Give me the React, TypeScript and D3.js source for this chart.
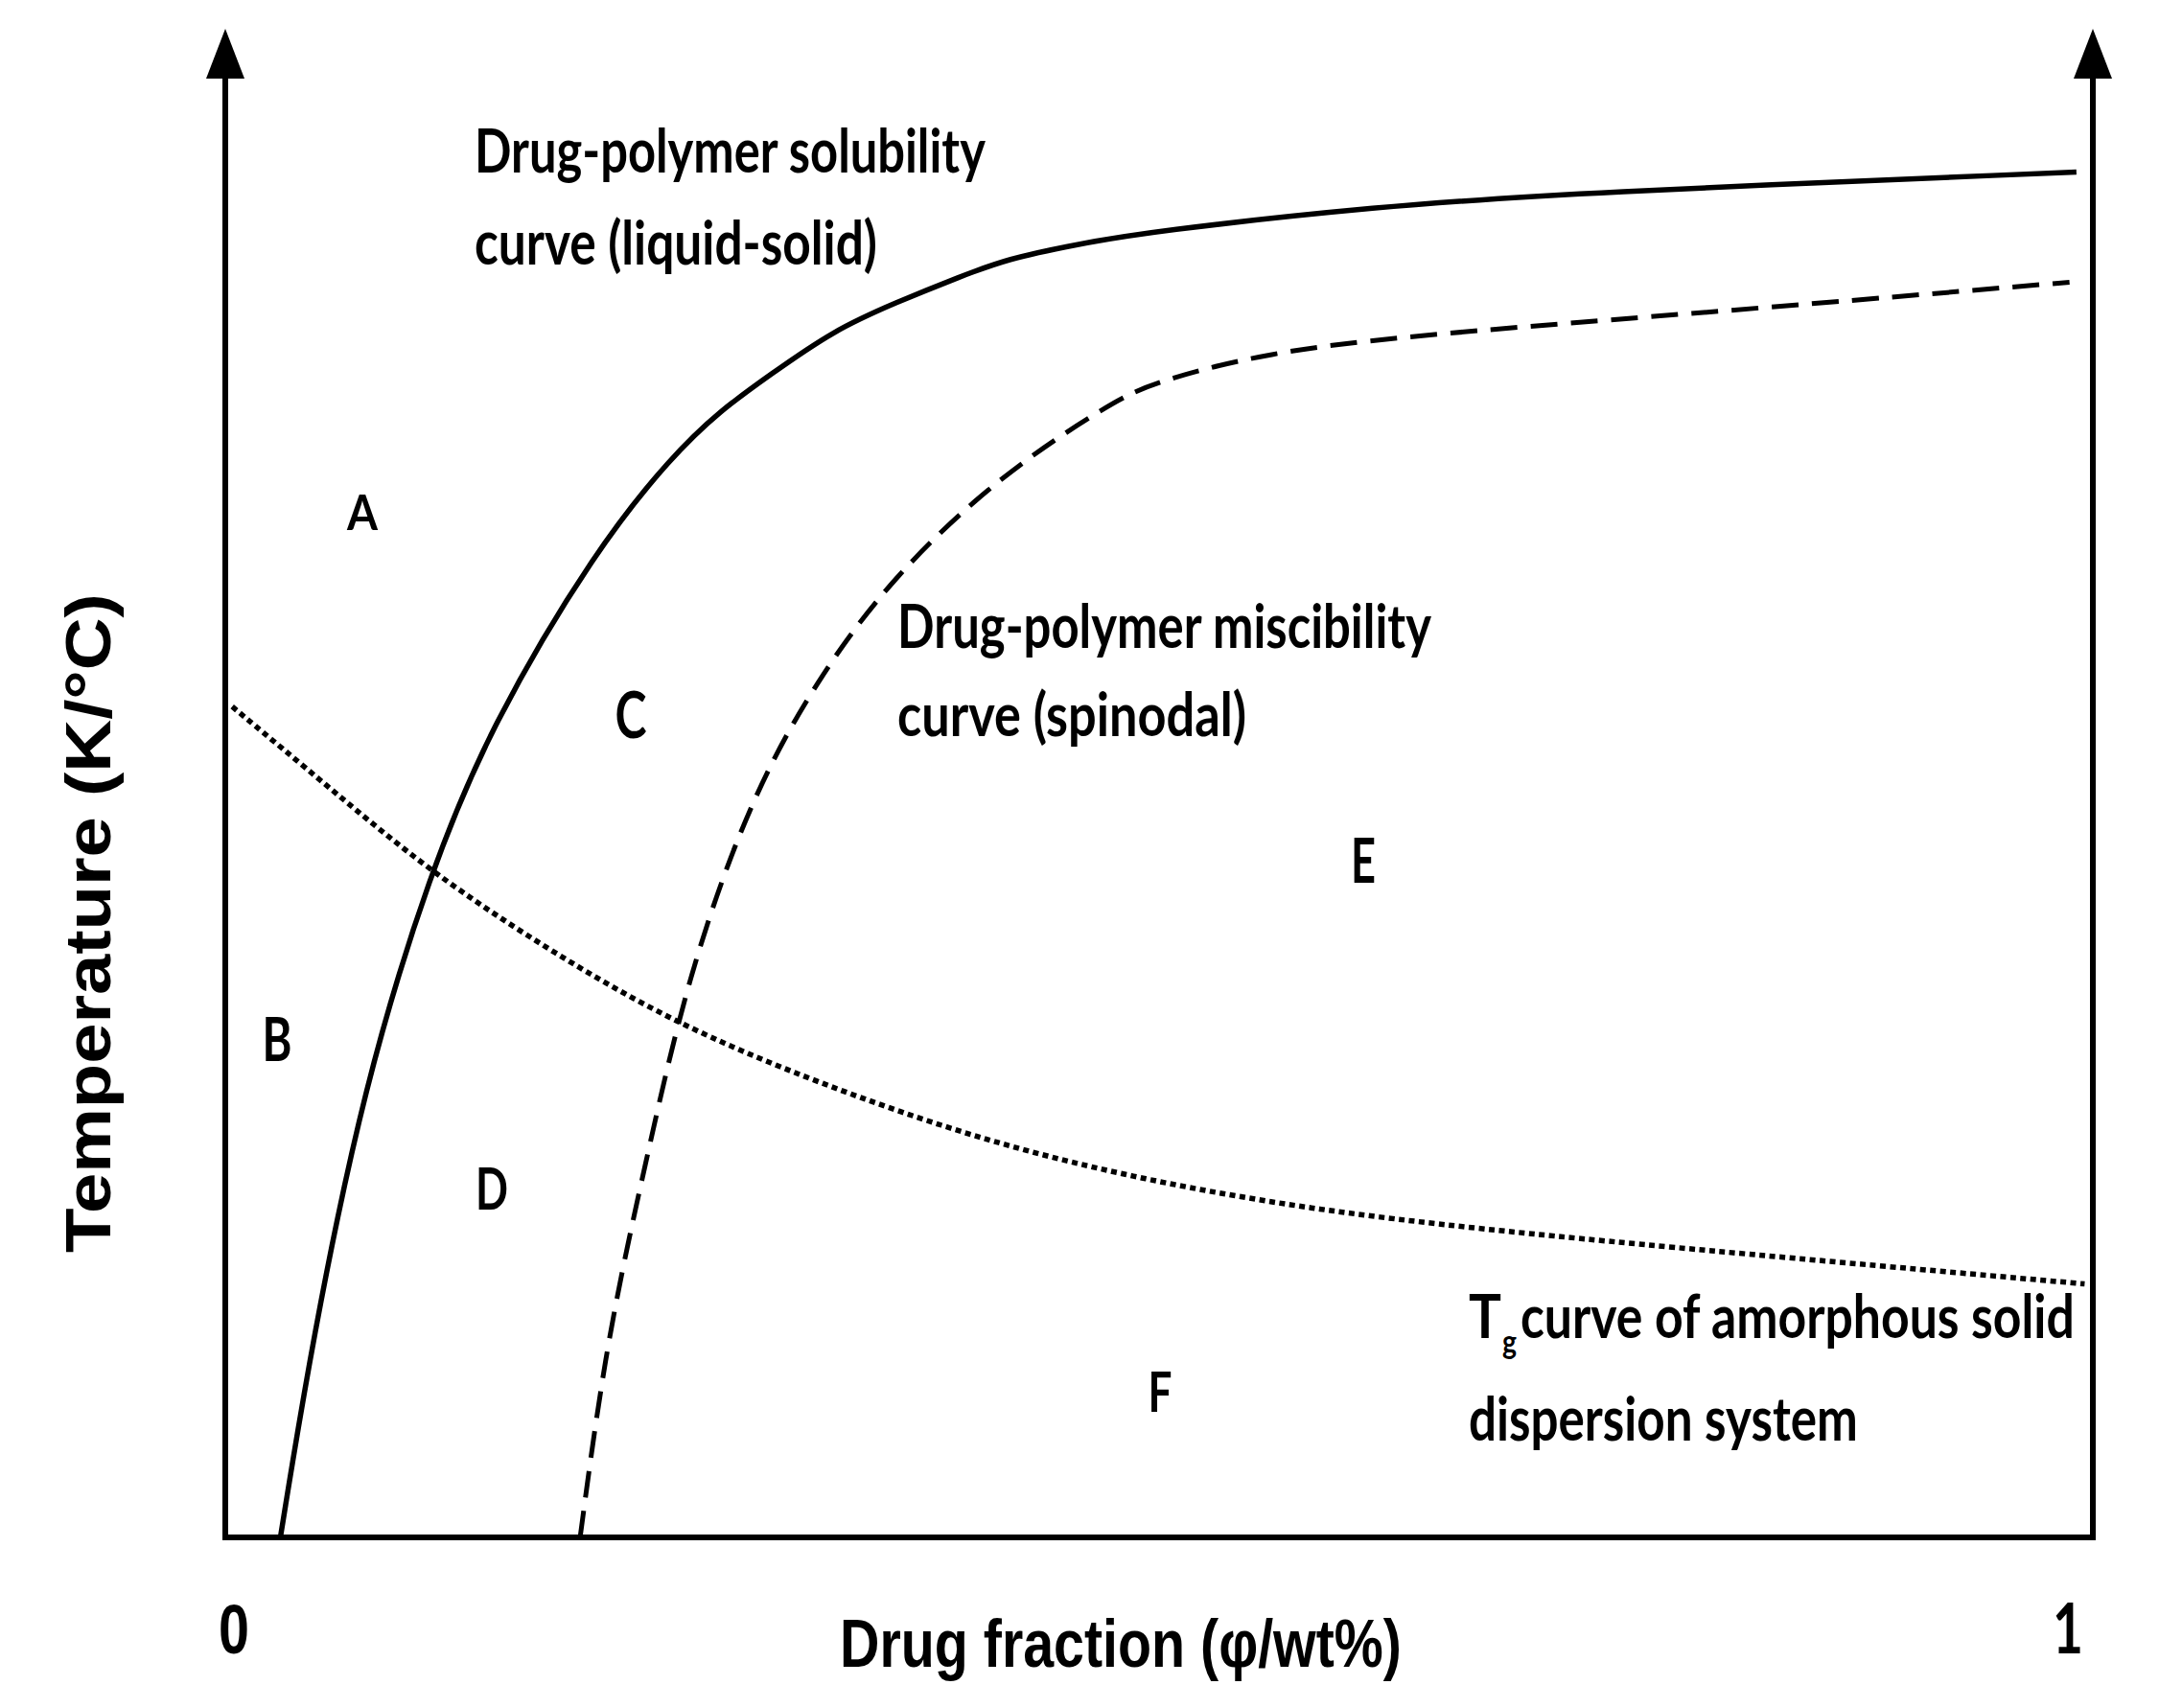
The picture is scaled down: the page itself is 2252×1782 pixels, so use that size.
import React, { useLayoutEffect, useRef, useState } from 'react';
import * as d3 from 'd3';

// ---------- data ----------
// Drug-polymer solubility curve (liquid-solid), solid line
const solidFraction = [0.0295, 0.0464, 0.0744, 0.1097, 0.1421, 0.1988, 0.2393, 0.2651, 0.2909, 0.3255, 0.3594, 0.3932, 0.419, 0.4536, 0.4963, 0.6171, 0.7209, 0.9912];
const solidTemp = [0, 12.97, 30.05, 44.11, 53.79, 65.57, 71.69, 74.7, 76.99, 80.0, 81.87, 83.56, 84.75, 85.66, 86.58, 88.22, 89.13, 90.5];

// Drug-polymer miscibility curve (spinodal), dashed line
const spinodalFraction = [0.19, 0.204, 0.2246, 0.2474, 0.2813, 0.3166, 0.3557, 0.4146, 0.475, 0.4963, 0.5567, 0.6392, 0.8027, 0.9875];
const spinodalTemp = [0, 12.97, 24.57, 37.17, 49.04, 56.8, 63.47, 70.41, 75.25, 76.53, 78.54, 79.73, 81.28, 83.2];

// Tg curve of amorphous solid dispersion, dotted line
const tgFraction = [0.0037, 0.0567, 0.1097, 0.1745, 0.2408, 0.3166, 0.405, 0.4926, 0.5817, 0.6701, 0.7776, 0.9956];
const tgTemp = [55.07, 49.59, 44.11, 38.81, 34.06, 30.14, 26.3, 23.65, 21.74, 20.46, 19.18, 16.8];

// Region labels (placed in data coordinates)
const regionLabels = ['A', 'B', 'C', 'D', 'E', 'F'];
const regionFraction = [0.0734, 0.0277, 0.2171, 0.1427, 0.6093, 0.5005];
const regionTemp = [66.8, 31.6, 53.0, 21.7, 43.4, 8.3];

// Axis ticks
const xTickValues = [0, 1];
const xTickLabels = ['0', '1'];
const xAxisTitle = 'Drug fraction (\u03C6/wt%)';
const yAxisTitle = 'Temperature (K/\u00B0C)';

// Curve annotations
const annotationLines = [
  'Drug-polymer solubility',
  'curve (liquid-solid)',
  'Drug-polymer miscibility',
  'curve (spinodal)',
  'curve of amorphous solid',
  'dispersion system',
];
const annotationFraction = [0.1335, 0.1335, 0.3599, 0.3599, 0.6935, 0.6658];
const annotationTemp = [90.47, 84.37, 58.96, 53.11, 13.21, 6.42];
const tgSymbolFraction = 0.6658;
const tgSymbolTemp = 13.21;

// ---------- styles / layout ----------
const W = 2252;
const H = 1782;
const annotationLengths = [533, 420, 557, 364, 578, 406];
const regionSizes: Record<string, number> = { A: 52, B: 63, C: 66, D: 62, E: 65, F: 58 };
const regionWidths: Record<string, number> = { A: 32, B: 31, C: 33, D: 34, E: 26, F: 25 };
const ANN_FONT = "Lato, 'Open Sans', sans-serif";
const AX_FONT = "'Liberation Sans', Arial, sans-serif";

type FitProps = {
  x: number;
  y: number;
  width: number;
  anchor?: 'start' | 'middle' | 'end';
  rotate?: number;
  family: string;
  weight: number;
  size: number;
  children: React.ReactNode;
};

// Text squeezed horizontally to a measured width (the reference's lettering is condensed)
function FitText({ x, y, width, anchor = 'start', rotate = 0, family, weight, size, children }: FitProps) {
  const ref = useRef<SVGTextElement>(null);
  const [s, setS] = useState(1);
  useLayoutEffect(() => {
    if (ref.current) {
      const w = ref.current.getComputedTextLength();
      if (w > 0) setS(width / w);
    }
  }, [width, children, size, family]);
  return (
    <text
      ref={ref}
      transform={`translate(${x},${y}) rotate(${rotate}) scale(${s},1)`}
      textAnchor={anchor}
      fontFamily={family}
      fontWeight={weight}
      fontSize={size}
      fill="#000"
    >
      {children}
    </text>
  );
}

export default function App() {
  const x = d3.scaleLinear().domain([0, 1]).range([235, 2183]);
  const y = d3.scaleLinear().domain([0, 100]).range([1604, 30]);

  const line = d3
    .line<[number, number]>()
    .x((d) => x(d[0]))
    .y((d) => y(d[1]))
    .curve(d3.curveBasis);

  const solidPath = line(solidFraction.map((f, i) => [f, solidTemp[i]] as [number, number])) || '';
  const spinodalPath = line(spinodalFraction.map((f, i) => [f, spinodalTemp[i]] as [number, number])) || '';
  const tgPath = line(tgFraction.map((f, i) => [f, tgTemp[i]] as [number, number])) || '';

  const x0 = x(0);
  const x1 = x(1);
  const yTop = y(100);
  const yBot = y(0);
  const headLen = 52;
  const headHalf = 20;
  const axisPath = `M${x0},${yTop + headLen} V${yBot} H${x1} V${yTop + headLen}`;
  const arrow = (ax: number) =>
    `M${ax},${yTop} L${ax + headHalf},${yTop + headLen} L${ax - headHalf},${yTop + headLen} Z`;

  return (
    <svg
      width={W}
      height={H}
      viewBox={`0 0 ${W} ${H}`}
      style={{ position: 'absolute', left: 0, top: 0, display: 'block', background: '#fff' }}
    >
      <rect x={0} y={0} width={W} height={H} fill="#fff" />

      {/* axes */}
      <path d={axisPath} fill="none" stroke="#000" strokeWidth={6} strokeLinejoin="miter" />
      <path d={arrow(x0)} fill="#000" />
      <path d={arrow(x1)} fill="#000" />

      {/* curves */}
      <path d={solidPath} fill="none" stroke="#000" strokeWidth={5.5} />
      <path d={spinodalPath} fill="none" stroke="#000" strokeWidth={5} strokeDasharray="28 14" />
      <path d={tgPath} fill="none" stroke="#000" strokeWidth={5.5} strokeDasharray="6 4.5" />

      {/* x tick labels */}
      {xTickValues.map((v, i) => (
        <FitText
          key={'xt' + i}
          x={i === 0 ? x(v) - 7 : x(v) - 10}
          y={yBot + 121}
          width={32}
          anchor={i === 0 ? 'start' : 'end'}
          family={i === 0 ? AX_FONT : ANN_FONT}
          weight={700}
          size={72}
        >
          {xTickLabels[i]}
        </FitText>
      ))}

      {/* axis titles */}
      <FitText x={(x0 + x1) / 2 - 40} y={yBot + 135} width={586} anchor="middle" family={AX_FONT} weight={700} size={71}>
        {xAxisTitle}
      </FitText>
      <FitText
        x={115}
        y={(yTop + yBot) / 2 + 146}
        rotate={-90}
        width={688}
        anchor="middle"
        family={AX_FONT}
        weight={700}
        size={66}
      >
        {yAxisTitle}
      </FitText>

      {/* curve annotations */}
      {annotationLines.map((t, i) => (
        <FitText
          key={'an' + i}
          x={x(annotationFraction[i])}
          y={y(annotationTemp[i])}
          width={annotationLengths[i]}
          family={ANN_FONT}
          weight={700}
          size={64}
        >
          {t}
        </FitText>
      ))}
      {/* T with subscript g */}
      <FitText x={x(tgSymbolFraction)} y={y(tgSymbolTemp)} width={34} family={ANN_FONT} weight={700} size={64}>
        T
      </FitText>
      <FitText x={x(tgSymbolFraction) + 35} y={y(tgSymbolTemp) + 16} width={15} family={ANN_FONT} weight={700} size={34}>
        g
      </FitText>

      {/* region labels */}
      {regionLabels.map((lab, i) => (
        <FitText
          key={'rg' + i}
          x={x(regionFraction[i])}
          y={y(regionTemp[i])}
          width={regionWidths[lab]}
          anchor="middle"
          family={ANN_FONT}
          weight={700}
          size={regionSizes[lab]}
        >
          {lab}
        </FitText>
      ))}
    </svg>
  );
}
